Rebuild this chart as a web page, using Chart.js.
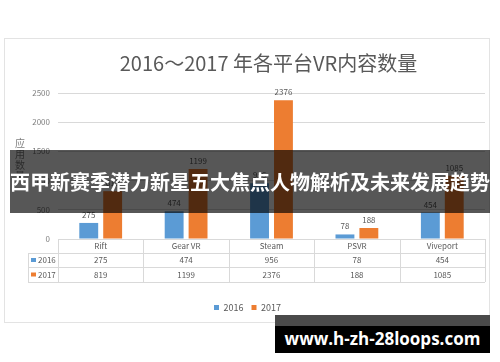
<!DOCTYPE html>
<html>
<head>
<meta charset="utf-8">
<script src="https://cdn.jsdelivr.net/npm/chart.js@4.4.0/dist/chart.umd.min.js"></script>
<style>
  body { margin: 0; background: #fff; }
  #wrap { position: relative; width: 500px; height: 362px; overflow: hidden; }
  #frame { position: absolute; left: 4px; top: 38px; width: 484px; height: 283px; border: 1px solid #e3e3e3; }
  #c { position: absolute; left: 0; top: 0; }
  #banner {
    position: absolute; left: 10px; top: 150px; width: 480px; height: 63px;
    background: rgba(0,0,0,0.66); color: #fff;
    font: bold 20px "Noto Sans CJK SC", sans-serif;
    display: flex; align-items: center; justify-content: center; white-space: nowrap;
  }
  #mark {
    position: absolute; left: 275px; top: 315px; width: 215px; height: 38px;
    background: linear-gradient(#4a4a4a 0, #4a4a4a 11px, #000 11px);
    color: #fff; font: bold 17px "Open Sans", "DejaVu Sans", sans-serif;
    display: flex; align-items: center; justify-content: center; padding-top: 8px; box-sizing: border-box;
  }
</style>
</head>
<body>
<div id="wrap">
  <div id="frame"></div>
  <canvas id="c" width="500" height="362"></canvas>
  <div id="banner">西甲新赛季潜力新星五大焦点人物解析及未来发展趋势</div>
  <div id="mark">www.h-zh-28loops.com</div>
</div>
<script>
// 数据
const platforms = ['Rift', 'Gear VR', 'Steam', 'PSVR', 'Viveport'];
const years = ['2016', '2017'];
const count2016 = [275, 474, 956, 78, 454];
const count2017 = [819, 1199, 2376, 188, 1085];
const yTicks = [0, 500, 1000, 1500, 2000, 2500];
const chartTitle = '2016～2017 年各平台VR内容数量';
const yTitle = '应用数量';

const colors = ['#5b9bd5', '#ed7d31'];
const textGray = '#595959';
const lineGray = '#d9d9d9';
const FONT = '"Noto Sans CJK SC", sans-serif';

// title, axis title, value labels and the data table under the axis
const extras = {
  id: 'extras',
  afterDraw(chart) {
    const { ctx, chartArea: ca } = chart;
    const xs = chart.scales.x;
    const w = (ca.right - ca.left) / platforms.length;
    ctx.save();

    ctx.fillStyle = textGray;
    ctx.font = '20px ' + FONT;
    ctx.textAlign = 'center';
    ctx.textBaseline = 'middle';
    ctx.fillText(chartTitle, (ca.left + ca.right) / 2 - 3, 63);

    ctx.font = '10px ' + FONT;
    ctx.fillStyle = '#7f7f7f';
    [...yTitle].forEach((ch, i) => ctx.fillText(ch, 20, 143 + i * 11));

    // value labels
    ctx.font = '8px ' + FONT;
    ctx.fillStyle = textGray;
    ctx.textBaseline = 'bottom';
    chart.data.datasets.forEach((ds, di) => {
      chart.getDatasetMeta(di).data.forEach((bar, i) => {
        ctx.fillText(ds.data[i], bar.x, bar.y - 4);
      });
    });

    // table
    const rowTop = [ca.bottom, 253, 267, 282];
    ctx.strokeStyle = lineGray;
    ctx.lineWidth = 1;
    ctx.beginPath();
    for (let i = 0; i <= platforms.length; i++) {
      const x = Math.round(ca.left + i * w) + 0.5;
      ctx.moveTo(x, ca.bottom); ctx.lineTo(x, rowTop[3]);
    }
    ctx.moveTo(28.5, rowTop[1]); ctx.lineTo(28.5, rowTop[3]);
    for (let r = 1; r <= 3; r++) {
      ctx.moveTo(28, rowTop[r] + 0.5); ctx.lineTo(ca.right, rowTop[r] + 0.5);
    }
    ctx.stroke();

    ctx.textBaseline = 'middle';
    ctx.font = '8px ' + FONT;
    ctx.fillStyle = textGray;
    platforms.forEach((p, i) => {
      const cx = xs.getPixelForValue(i);
      ctx.fillText(p, cx, (rowTop[0] + rowTop[1]) / 2);
      ctx.fillText(count2016[i], cx, (rowTop[1] + rowTop[2]) / 2);
      ctx.fillText(count2017[i], cx, (rowTop[2] + rowTop[3]) / 2);
    });
    ctx.textAlign = 'left';
    years.forEach((y, r) => {
      const cy = (rowTop[r + 1] + rowTop[r + 2]) / 2;
      ctx.fillStyle = colors[r];
      ctx.fillRect(31, cy - 2, 5, 4);
      ctx.fillStyle = textGray;
      ctx.fillText(y, 38, cy);
    });
    ctx.restore();
  }
};

new Chart(document.getElementById('c'), {
  type: 'bar',
  data: {
    labels: platforms,
    datasets: [
      { label: years[0], data: count2016, backgroundColor: colors[0] },
      { label: years[1], data: count2017, backgroundColor: colors[1] }
    ]
  },
  options: {
    responsive: false,
    animation: false,
    events: [],
    categoryPercentage: 0.56,
    barPercentage: 0.79,
    layout: { padding: { left: 10, right: 15, top: 93, bottom: 40 } },
    scales: {
      x: {
        grid: { display: false },
        border: { display: true, color: lineGray },
        ticks: { display: false },
        afterFit(s) { s.height = 56; }
      },
      y: {
        min: 0, max: 2500,
        afterBuildTicks(s) { s.ticks = yTicks.map(v => ({ value: v })); },
        grid: { color: lineGray, drawTicks: false },
        border: { display: false },
        ticks: { padding: 8, color: '#7f7f7f', font: { size: 8, family: FONT }, callback: v => String(v) },
        afterFit(s) { s.width = 48; }
      }
    },
    plugins: {
      title: { display: false },
      tooltip: { enabled: false },
      legend: {
        position: 'bottom',
        labels: { boxWidth: 5, boxHeight: 5, padding: 8, color: textGray, font: { size: 9, family: FONT } }
      }
    }
  },
  plugins: [extras]
});
</script>
</body>
</html>
